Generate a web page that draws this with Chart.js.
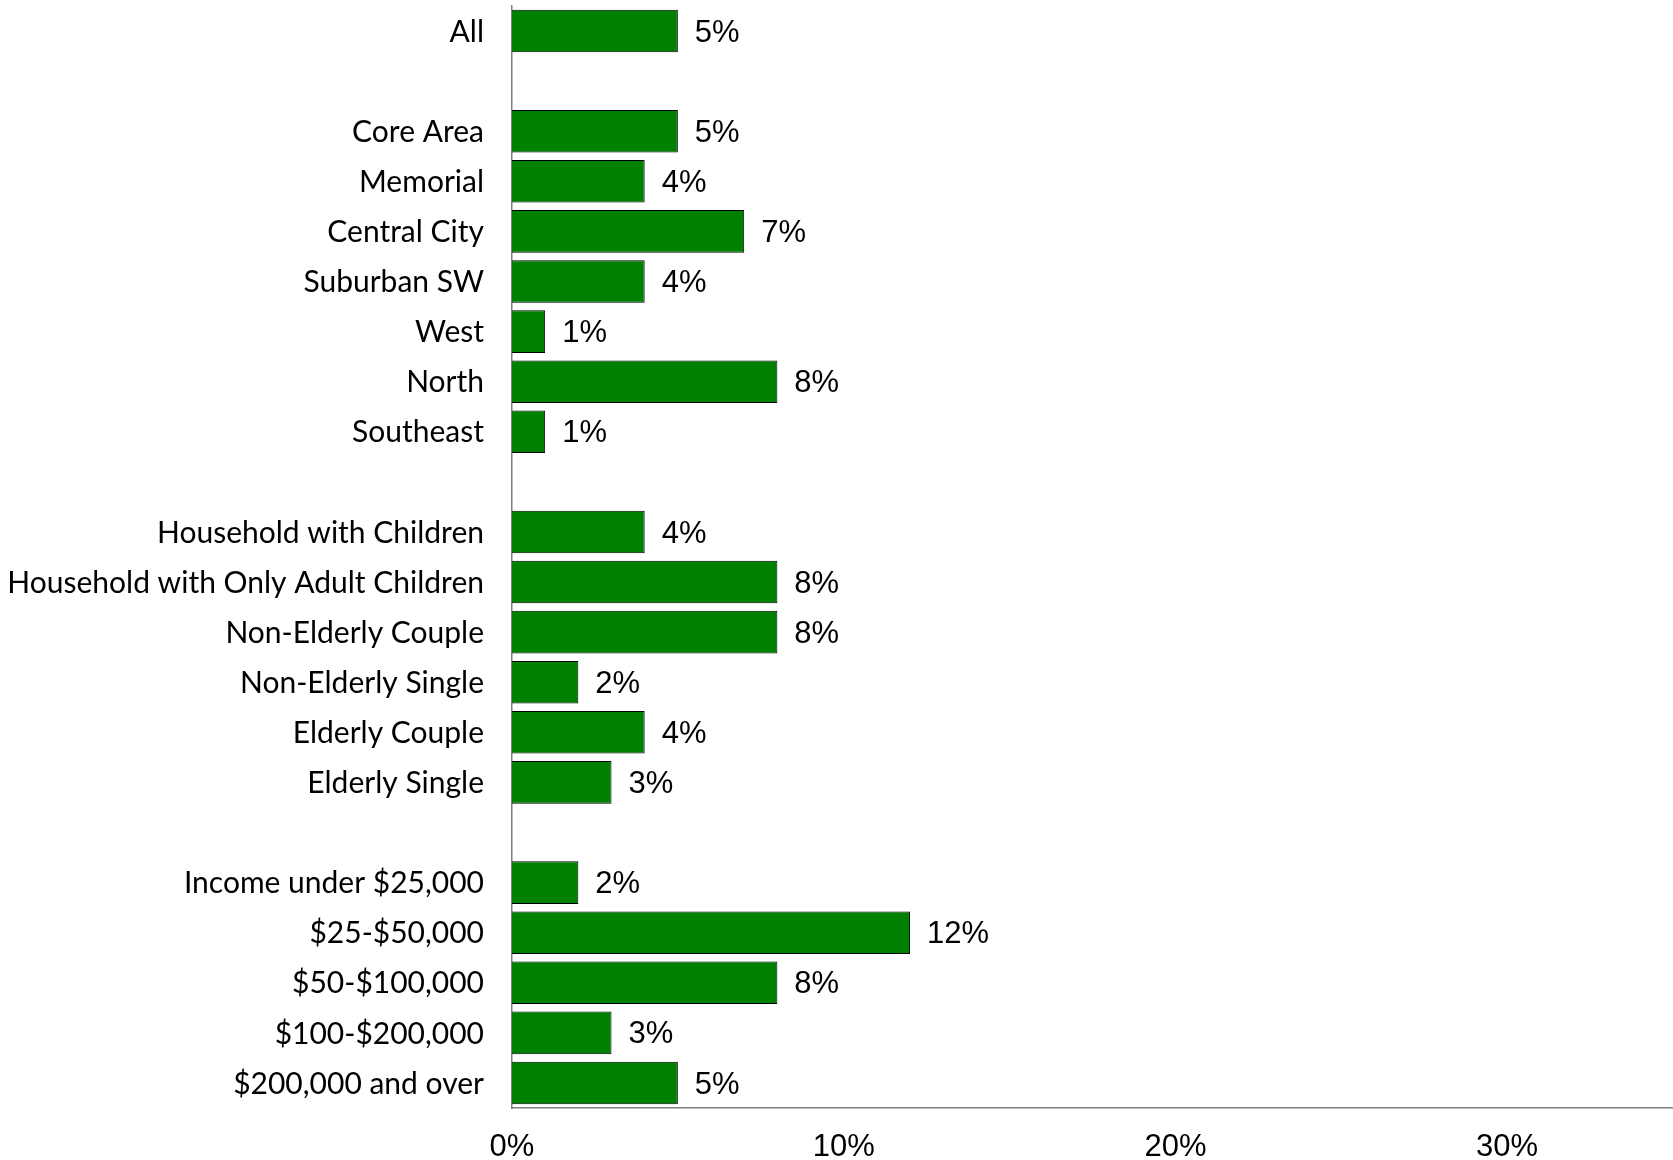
<!DOCTYPE html>
<html>
<head>
<meta charset="utf-8">
<script src="https://cdn.jsdelivr.net/npm/chart.js@4"></script>
<style>
html,body{margin:0;padding:0;background:#fff;}
#wrap{width:1673px;height:1160px;position:relative;}
</style>
</head>
<body>
<div id="wrap"><canvas id="c"></canvas></div>
<script>
const categories = [
  "All", "",
  "Core Area", "Memorial", "Central City", "Suburban SW", "West", "North", "Southeast", "",
  "Household with Children", "Household with Only Adult Children", "Non-Elderly Couple",
  "Non-Elderly Single", "Elderly Couple", "Elderly Single", "",
  "Income under $25,000", "$25-$50,000", "$50-$100,000", "$100-$200,000", "$200,000 and over"
];
const values = [
  5, null,
  5, 4, 7, 4, 1, 8, 1, null,
  4, 8, 8, 2, 4, 3, null,
  2, 12, 8, 3, 5
];
const xTicks = [0, 10, 20, 30];
const xMax = 35;

const valueLabels = {
  id: 'valueLabels',
  afterDatasetsDraw(chart) {
    const ctx = chart.ctx;
    const meta = chart.getDatasetMeta(0);
    ctx.save();
    ctx.font = '31px "Liberation Sans", Arial, sans-serif';
    ctx.fillStyle = '#000';
    ctx.textAlign = 'left';
    ctx.textBaseline = 'middle';
    meta.data.forEach((bar, i) => {
      const v = values[i];
      if (v === null || v === undefined) return;
      ctx.fillText(v + '%', bar.x + 17, bar.y + 2);
    });
    ctx.restore();
  }
};

new Chart(document.getElementById('c'), {
  type: 'bar',
  data: {
    labels: categories,
    datasets: [{
      data: values,
      backgroundColor: '#008000',
      borderColor: '#000000',
      borderWidth: 1,
      categoryPercentage: 1,
      barPercentage: 0.85
    }]
  },
  options: {
    indexAxis: 'y',
    responsive: true,
    maintainAspectRatio: false,
    animation: false,
    layout: { padding: { top: 6, right: 0, left: 0, bottom: 0 } },
    plugins: { legend: { display: false }, tooltip: { enabled: false } },
    scales: {
      x: {
        min: 0, max: xMax,
        afterBuildTicks(scale) { scale.ticks = xTicks.map(v => ({ value: v })); },
        afterFit(scale) { scale.height = 52; scale.paddingLeft = 0; scale.paddingRight = 0; },
        grid: { display: false, drawTicks: false },
        border: { display: true, color: '#7f7f7f', width: 1.5 },
        ticks: {
          padding: 21,
          color: '#000',
          font: { family: '"Liberation Sans", Arial, sans-serif', size: 31 },
          callback: (v) => v + '%'
        }
      },
      y: {
        afterFit(scale) { scale.width = 512; scale.paddingTop = 0; scale.paddingBottom = 0; },
        grid: { display: false, drawTicks: false },
        border: { display: true, color: '#7f7f7f', width: 1.5 },
        ticks: {
          padding: 28,
          labelOffset: 1,
          color: '#000',
          autoSkip: false,
          font: { family: 'Lato, sans-serif', size: 30 }
        }
      }
    }
  },
  plugins: [valueLabels]
});
</script>
</body>
</html>
